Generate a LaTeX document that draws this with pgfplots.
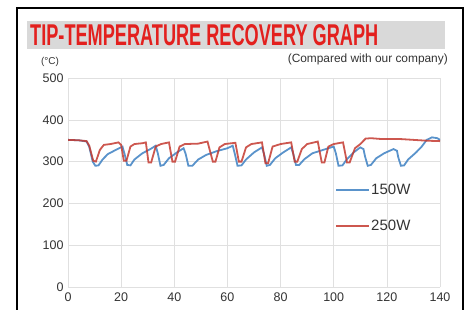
\documentclass[border=0pt]{standalone}
\usepackage{pgfplots}
\pgfplotsset{compat=1.18}
\usepackage{fontspec}
\setmainfont{Liberation Sans}
\definecolor{titlered}{HTML}{E3201E}
\definecolor{bandgray}{HTML}{D9D9D9}
\definecolor{bluel}{HTML}{3D80C2}
\definecolor{redl}{HTML}{C43A30}
\begin{document}
\begin{tikzpicture}[x=1pt,y=1pt]
\useasboundingbox (0,0) rectangle (468,309);
\draw[line width=1.4pt] (17,-3) -- (17,301) -- (463,301) -- (463,-3);
\fill[bandgray] (27,260) rectangle (445,288);
\node[anchor=south west, inner sep=0pt] at (30,263) {\resizebox{348pt}{21pt}{\color{titlered}\bfseries TIP-TEMPERATURE RECOVERY GRAPH}};
\node[anchor=east, inner sep=0pt, text=black!80] at (448,250) {\resizebox{160pt}{!}{\fontsize{10}{12}\selectfont (Compared with our company)}};
\node[inner sep=0pt, text=black!80] at (50,247) {\fontsize{10}{11}\selectfont (°C)};
\begin{axis}[
  at={(68pt,22pt)}, anchor=south west,
  scale only axis, width=372pt, height=209pt,
  xmin=0, xmax=140, ymin=0, ymax=500,
  xtick={0,20,...,140}, ytick={0,100,...,500},
  grid=major, major grid style={black!12, line width=0.6pt},
  axis line style={draw=none},
  major tick length=0pt,
  /pgf/number format/assume math mode=true,
  ticklabel style={font=\fontsize{12.5}{13}\selectfont, text=black!80},
  xticklabel style={yshift=-2pt},
  yticklabel style={xshift=-1pt},
  legend style={draw=none, fill=none, at={(axis cs:100.5,250)}, anchor=north west,
    font=\fontsize{15}{15}\selectfont, row sep=22pt, inner sep=0pt,
    /tikz/every even column/.append style={column sep=0pt},
    nodes={inner sep=1pt, text=black!80}},
  legend image code/.code={\draw[#1, line width=2pt] (0pt,0pt) -- (33pt,0pt);},
  legend cell align=left,
]
\addplot[color=bluel, line width=1.8pt, opacity=0.85] coordinates {
(0,352)(4,351)(7,348)(8,335)(9.3,300)(10.3,290)(11.5,291)(13,305)(15,318)(18,328)(20.5,336)(21.3,318)(22.3,292)(23.5,291)(25,305)(28,320)(31,330)(33,338)(33.8,320)(34.8,290)(36,292)(38,308)(41,322)(43.5,332)(44.3,318)(45.3,290)(46.8,290)(49,305)(52,316)(56,325)(60,332)(62,338)(62.8,318)(63.8,290)(65.3,291)(67,305)(70,322)(73,334)(73.8,318)(74.8,290)(76,292)(78,308)(81,322)(84,334)(84.8,318)(85.8,292)(87,292)(89,306)(92,320)(96,328)(100,336)(100.8,320)(101.8,290)(103.3,291)(105,306)(107.5,322)(110,334)(111.2,330)(111.8,312)(112.8,290)(114,292)(116,308)(119,320)(122.5,330)(123.8,326)(124.3,310)(125.3,290)(126.5,291)(128,305)(131,322)(133,335)(135,352)(137,358)(139,356)(140,352)
};
\addlegendentry{150W}
\addplot[color=redl, line width=1.8pt, opacity=0.85] coordinates {
(0,352)(4,351)(7,349)(8,338)(9.5,302)(10.5,300)(12,328)(13.5,340)(16,342)(19,346)(20,340)(21,302)(22,302)(23.5,336)(25,342)(28,344)(29.3,346)(30.3,298)(31.3,298)(33,336)(35,342)(38,346)(39.3,300)(40.3,300)(42,336)(44,342)(49,343)(52.5,348)(54.5,300)(55.5,300)(57,334)(59,342)(63,345)(64.3,300)(65.3,300)(67,334)(69,342)(73,346)(74.3,296)(75.3,296)(77,336)(80,342)(84,346)(85.3,300)(86.3,300)(88,330)(90,342)(94,348)(95.5,298)(96.5,298)(98,336)(100,342)(103.5,346)(105,298)(106,298)(108,332)(110,342)(112,355)(114,356)(118,354)(125,354)(130,352)(135,350)(140,349)
};
\addlegendentry{250W}
\end{axis}
\end{tikzpicture}
\end{document}
